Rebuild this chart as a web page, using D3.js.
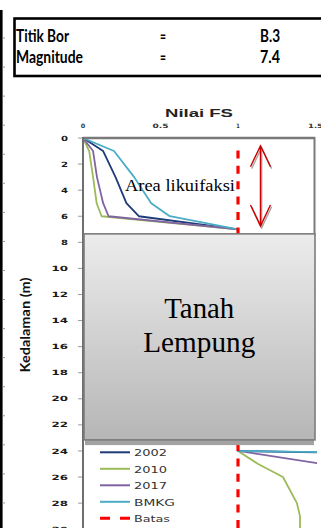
<!DOCTYPE html>
<html>
<head>
<meta charset="utf-8">
<script src="https://cdn.jsdelivr.net/npm/d3@7"></script>
<style>
  html, body { margin: 0; padding: 0; background: #fff; }
  svg { display: block; }
</style>
</head>
<body>
<div id="chart"></div>
<script>
// ---- Data -------------------------------------------------------------
const infoLabels = ["Titik Bor", "Magnitude"];
const infoValues = ["B.3", "7.4"];

const seriesNames = ["2002", "2010", "2017", "BMKG"];
const seriesColors = ["#1f3a78", "#9bbb59", "#8064a2", "#4bacc6"];

// depth (m) and factor of safety for each series
const depth2002 = [0, 1, 3, 5, 6, 7, 24, 25];
const fs2002    = [0, 0.13, 0.21, 0.28, 0.36, 1, 1, 5.5];
const depth2010 = [0, 1, 3, 5, 6, 7, 24, 25, 26, 28, 29, 30];
const fs2010    = [0, 0.04, 0.065, 0.088, 0.12, 1, 1, 1.13, 1.29, 1.38, 1.40, 1.40];
const depth2017 = [0, 1, 3, 5, 6, 7, 24, 25];
const fs2017    = [0, 0.065, 0.09, 0.13, 0.165, 1, 1, 1.55];
const depthBMKG = [0, 1, 3, 5, 6, 7, 24, 25];
const fsBMKG    = [0, 0.2, 0.33, 0.44, 0.56, 1, 1, 6.5];

// limit line FS = 1
const batasFs = [1, 1];
const batasDepth = [0.95, 30];

const xTicks = [0, 0.5, 1, 1.5];
const xTickLabels = ["0", "0.5", "1", "1.5"];
const yTicks = d3.range(0, 31, 2);

// ---- Layout -----------------------------------------------------------
const W = 321, H = 528;
const svg = d3.select("#chart").append("svg")
  .attr("width", W).attr("height", H);

const x = d3.scaleLinear().domain([0, 1.5]).range([83, 315.5]);
const y = d3.scaleLinear().domain([0, 30]).range([138, 529.2]);

// stretch a text element to a given width
function fit(sel, w) {
  return sel.attr("textLength", w).attr("lengthAdjust", "spacingAndGlyphs");
}

// ---- Sheet edge on the left ------------------------------------------
svg.append("rect").attr("x", 0).attr("y", 10).attr("width", 2.6).attr("height", H - 10).attr("fill", "#000");
const rowLines = d3.range(0, 17).map(k => 38 + k * 29.06);
svg.selectAll(".rowtick").data(rowLines).join("line")
  .attr("x1", 2.6).attr("x2", 5).attr("y1", d => d).attr("y2", d => d)
  .attr("stroke", "#9a9a9a").attr("stroke-width", 1);

// ---- Info table ------------------------------------------------------
svg.append("rect").attr("x", 14.5).attr("y", 18.5).attr("width", 330).attr("height", 57.5)
  .attr("fill", "none").attr("stroke", "#000").attr("stroke-width", 2.6);
const rowBase = [42, 62.5];
const labelW = [53, 67];
infoLabels.forEach((lab, i) => {
  fit(svg.append("text").attr("x", 16).attr("y", rowBase[i])
    .attr("font-family", "Lato, 'Open Sans', sans-serif").attr("font-weight", "bold")
    .attr("font-size", 16.5).attr("fill", "#000").text(lab), labelW[i]);
  fit(svg.append("text").attr("x", 160).attr("y", rowBase[i])
    .attr("font-family", "Lato, 'Open Sans', sans-serif").attr("font-weight", "bold")
    .attr("font-size", 16.5).attr("fill", "#000").text("="), 6);
  fit(svg.append("text").attr("x", 260).attr("y", rowBase[i])
    .attr("font-family", "Lato, 'Open Sans', sans-serif").attr("font-weight", "bold")
    .attr("font-size", 16.5).attr("fill", "#000").text(infoValues[i]), 20);
});

// ---- Axis title & ticks ---------------------------------------------
fit(svg.append("text").attr("x", 165).attr("y", 116.7)
  .attr("font-family", "'Liberation Sans', Arial, sans-serif").attr("font-weight", "bold")
  .attr("font-size", 10).attr("fill", "#222").text("Nilai FS"), 68);

const xLabW = [4.5, 16, 3.5, 15];
xTicks.forEach((t, i) => {
  fit(svg.append("text").attr("x", x(t) - xLabW[i] / 2).attr("y", 128.3)
    .attr("font-family", "'DejaVu Sans', sans-serif").attr("font-weight", "bold")
    .attr("font-size", 6).attr("fill", "#333").text(xTickLabels[i]), xLabW[i]);
});

yTicks.forEach(t => {
  const s = String(t);
  const w = s.length === 1 ? 7 : 16.5;
  fit(svg.append("text").attr("x", 68 - w).attr("y", y(t) + 2.6)
    .attr("font-family", "'DejaVu Sans', sans-serif").attr("font-weight", "bold")
    .attr("font-size", 7.2).attr("fill", "#1a1a1a").text(s), w);
  svg.append("line").attr("x1", 78).attr("x2", 83).attr("y1", y(t)).attr("y2", y(t))
    .attr("stroke", "#9a9a9a").attr("stroke-width", 1);
});

fit(svg.append("text")
  .attr("transform", `translate(29.5, ${325 + 47.5}) rotate(-90)`)
  .attr("x", 0).attr("y", 0)
  .attr("font-family", "Lato, 'Open Sans', sans-serif").attr("font-weight", "bold")
  .attr("font-size", 14).attr("fill", "#111").text("Kedalaman (m)"), 95);

// ---- Series ----------------------------------------------------------
const defs = svg.append("defs");
defs.append("clipPath").attr("id", "plotClip").append("rect")
  .attr("x", 83).attr("y", 136).attr("width", 234).attr("height", H - 136);

const series = [
  { name: seriesNames[0], d: depth2002, v: fs2002, c: seriesColors[0] },
  { name: seriesNames[1], d: depth2010, v: fs2010, c: seriesColors[1] },
  { name: seriesNames[2], d: depth2017, v: fs2017, c: seriesColors[2] },
  { name: seriesNames[3], d: depthBMKG, v: fsBMKG, c: seriesColors[3] },
];
const line = d3.line().x(p => x(p[0])).y(p => y(p[1]));
const plot = svg.append("g").attr("clip-path", "url(#plotClip)");
series.forEach(s => {
  plot.append("path")
    .attr("d", line(s.v.map((v, i) => [v, s.d[i]])))
    .attr("fill", "none").attr("stroke", s.c).attr("stroke-width", 1.8)
    .attr("stroke-linejoin", "round");
});
plot.append("path")
  .attr("d", line(batasFs.map((v, i) => [v, batasDepth[i]])))
  .attr("fill", "none").attr("stroke", "#ff0000").attr("stroke-width", 3.2)
  .attr("stroke-dasharray", "8,7.4");

// ---- Plot frame ------------------------------------------------------
svg.append("line").attr("x1", 83).attr("x2", 315).attr("y1", 138).attr("y2", 138)
  .attr("stroke", "#7a7a7a").attr("stroke-width", 2.4);
svg.append("line").attr("x1", 83).attr("x2", 83).attr("y1", 137).attr("y2", H)
  .attr("stroke", "#6e6e6e").attr("stroke-width", 2);
svg.append("line").attr("x1", 314.5).attr("x2", 314.5).attr("y1", 137).attr("y2", 236)
  .attr("stroke", "#7a7a7a").attr("stroke-width", 2);

// ---- Liquefaction annotation ----------------------------------------
fit(svg.append("text").attr("x", 125).attr("y", 191)
  .attr("font-family", "'Liberation Serif', 'Times New Roman', serif")
  .attr("font-size", 16.5).attr("fill", "#000").text("Area likuifaksi"), 110);

const ax = x(1.145), aTop = y(0.6), aBot = y(6.75);
function arrow(g, dx, dy, color) {
  const p = d3.path();
  p.moveTo(ax + dx, aTop + dy); p.lineTo(ax + dx, aBot + dy);
  p.moveTo(ax - 10 + dx, aTop + 21 + dy); p.lineTo(ax + dx, aTop + dy); p.lineTo(ax + 10 + dx, aTop + 21 + dy);
  p.moveTo(ax - 10 + dx, aBot - 21 + dy); p.lineTo(ax + dx, aBot + dy); p.lineTo(ax + 10 + dx, aBot - 21 + dy);
  g.append("path").attr("d", p.toString()).attr("fill", "none")
    .attr("stroke", color).attr("stroke-width", 1.4);
}
const arrG = svg.append("g");
arrow(arrG, 1.2, 1.8, "#a8a8a8");
arrow(arrG, 0, 0, "#cc0000");

// ---- Clay layer block ------------------------------------------------
const grad = defs.append("linearGradient").attr("id", "clay")
  .attr("x1", 0).attr("y1", 0).attr("x2", 0).attr("y2", 1);
grad.append("stop").attr("offset", "0%").attr("stop-color", "#ececec");
grad.append("stop").attr("offset", "100%").attr("stop-color", "#b6b6b6");

const clayTop = 7.35, clayBot = 23.15;
svg.append("rect").attr("x", 85).attr("y", y(clayBot)).attr("width", 229)
  .attr("height", y(23.55) - y(clayBot)).attr("fill", "#a2a2a2");
svg.append("rect").attr("x", 84).attr("y", y(clayTop)).attr("width", 231)
  .attr("height", y(clayBot) - y(clayTop))
  .attr("fill", "url(#clay)").attr("stroke", "#7c7c7c").attr("stroke-width", 1.6);

const cx = (x(0) + x(1.5)) / 2;
[["Tanah", 318, 70], ["Lempung", 352, 112]].forEach(([t, by, w]) => {
  fit(svg.append("text").attr("x", cx - w / 2).attr("y", by)
    .attr("font-family", "'Liberation Serif', 'Times New Roman', serif")
    .attr("font-size", 29).attr("fill", "#000").text(t), w);
});

// ---- Legend ----------------------------------------------------------
const legendItems = series.map(s => ({ name: s.name, c: s.c, dash: null, w: s.name === "BMKG" ? 41 : 33 }))
  .concat([{ name: "Batas", c: "#ff0000", dash: "10,10", w: 36 }]);
const legY = d3.range(legendItems.length).map(i => 452.3 + i * 16.5);
legendItems.forEach((it, i) => {
  svg.append("line").attr("x1", 100).attr("x2", 130).attr("y1", legY[i]).attr("y2", legY[i])
    .attr("stroke", it.c).attr("stroke-width", it.dash ? 3 : 2)
    .attr("stroke-dasharray", it.dash);
  fit(svg.append("text").attr("x", 134).attr("y", legY[i] + 3.8)
    .attr("font-family", "'DejaVu Sans', sans-serif")
    .attr("font-size", 9.4).attr("fill", "#333").text(it.name), it.w);
});
</script>
</body>
</html>
